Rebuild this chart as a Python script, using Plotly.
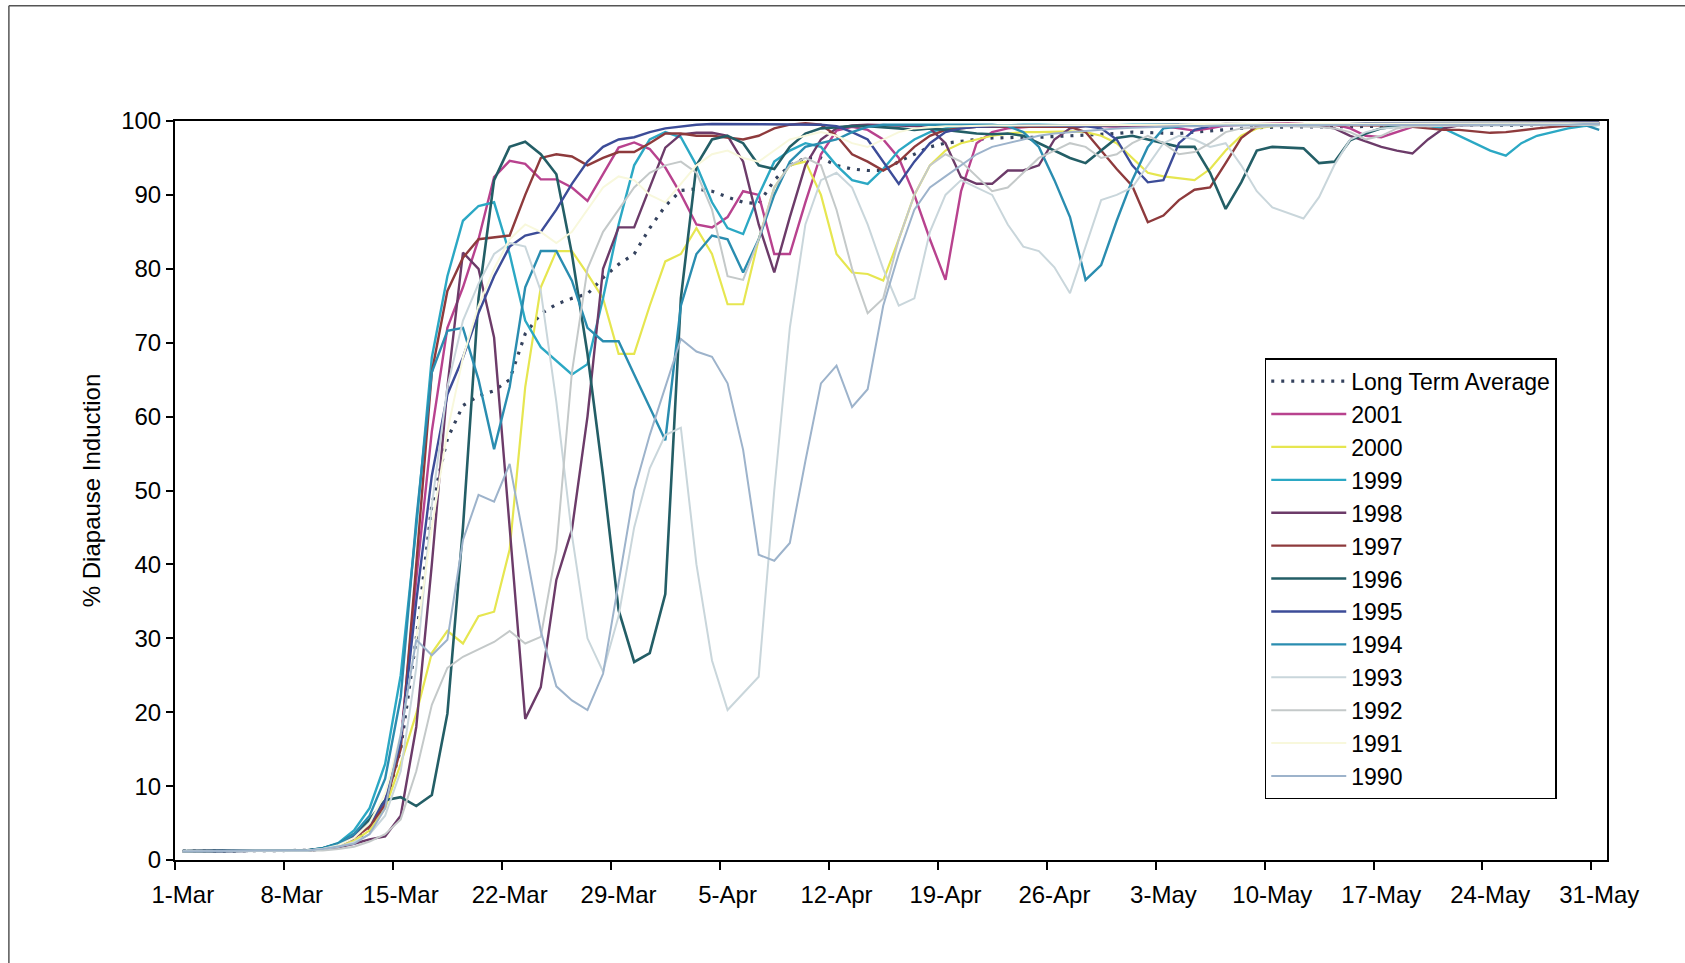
import pandas as pd
import plotly.graph_objects as go

# Daily dates, 1 March to 31 May
DATES = pd.date_range("2001-03-01", "2001-05-31", freq="D")
TICK_DATES = DATES[::7]
TICK_LABELS = [f"{d.day}-{d.strftime('%b')}" for d in TICK_DATES]

BASE = [1.2] * 7

long_term_average = BASE + [
    1.2, 1.3, 1.5, 1.9, 2.6, 4.0, 7.5,
    15, 30, 48, 57, 61.5, 62.8, 63.5,
    65, 71.2, 73.9, 75.2, 76, 76.6, 78.8,
    80.6, 82, 85.5, 88.5, 90.6, 90.8, 90.5,
    89.7, 89, 88.8, 92, 94, 95, 95,
    94, 93.5, 93.3, 93.3, 94.5, 95.5, 96.5,
    97, 97.3, 97.5, 97.7, 97.8, 97.8, 97.8,
    97.9, 97.9, 98, 98.1, 98.3, 98.5, 98.4,
    98.3, 98.3, 98.5, 98.7, 98.9, 99, 99.1,
    99.2, 99.2, 99.2, 99.2, 99.3, 99.3, 99.3,
    99.3, 99.3, 99.3, 99.4, 99.4, 99.4, 99.4,
    99.3, 99.3, 99.4, 99.5, 99.5, 99.5, 99.6,
    99.6]

y2001 = BASE + [
    1.2, 1.3, 1.5, 2.0, 3.0, 4.5, 8.0,
    16, 38, 58, 72, 77.5, 84, 92.4,
    94.6, 94.2, 92.1, 92.1, 91, 89.2, 92.8,
    96.4, 97.1, 96.2, 93.7, 90.1, 86, 85.6,
    87, 90.5, 90, 82, 82, 89, 95.5,
    98.7, 99.2, 98.8, 97.5, 95, 90, 84,
    78.5, 90.5, 97, 98.5, 99, 99.2, 99.3,
    99.3, 99.4, 99.4, 99.3, 99.2, 99.3, 99.4,
    99.3, 99, 98.7, 99, 99.4, 99.5, 99.6,
    99.7, 99.7, 99.6, 99.6, 99.5, 99, 98,
    97.8, 98.5, 99.2, 99.5, 99.6, 99.6, 99.7,
    99.7, 99.7, 99.7, 99.8, 99.8, 99.8, 99.8,
    99.8]

y2000 = BASE + [
    1.2, 1.3, 1.5, 1.9, 2.6, 4.0, 7.0,
    13, 19.8, 28, 31, 29.3, 33, 33.6,
    42, 64, 77.5, 82.4, 82.4, 79.3, 76,
    68.5, 68.5, 75, 81, 82, 85.5, 82,
    75.2, 75.2, 84, 91, 94, 94.5, 90,
    82, 79.5, 79.3, 78.4, 84, 90, 94,
    96, 97, 97.5, 98, 98.3, 98.5, 98.5,
    98.6, 98.6, 98.5, 98, 97, 95, 93,
    92.5, 92.3, 92, 93.5, 96, 98, 99,
    99.3, 99.5, 99.5, 99.5, 99.6, 99.6, 99.6,
    99.6, 99.7, 99.7, 99.7, 99.7, 99.7, 99.7,
    99.7, 99.7, 99.8, 99.8, 99.8, 99.8, 99.8,
    99.8]

y1999 = BASE + [
    1.2, 1.3, 1.6, 2.3, 4.0, 7.0, 13,
    25, 45, 68, 79, 86.5, 88.5, 89,
    82, 73, 69.4, 67.5, 65.7, 67.1, 76,
    86, 94, 97.5, 98.5, 97.8, 94, 89,
    85.5, 84.7, 90, 94.5, 96, 97, 96.5,
    94, 92, 91.5, 93.5, 96, 97.5, 98.5,
    99, 99.2, 99.3, 99.4, 99.4, 99.5, 99.5,
    99.5, 99.4, 99.3, 99.4, 99.5, 99.5, 99.5,
    99.5, 99.6, 99.6, 99.6, 99.6, 99.6, 99.6,
    99.6, 99.6, 99.5, 99.5, 99.5, 99.5, 99.5,
    99.5, 99.5, 99.4, 99.3, 99, 98, 97,
    96, 95.3, 97, 98, 98.5, 99, 99.3,
    99.5]

y1998 = BASE + [
    1.2, 1.3, 1.4, 1.7, 2.2, 2.8, 3.2,
    6, 18, 40, 64, 82.2, 80, 70.7,
    45, 19.1, 23.4, 37.9, 44.7, 60, 80,
    85.6, 85.6, 91, 96.4, 98.2, 98.4, 98.4,
    98, 94.5, 86, 79.5, 87, 94, 97.5,
    99, 99.4, 99.5, 99.5, 99.4, 99.3, 99,
    97, 92.4, 91.5, 91.5, 93.3, 93.3, 94,
    97.5, 99, 99.3, 99.4, 99.4, 99.4, 99.4,
    99.5, 99.5, 99.5, 99.5, 99.6, 99.6, 99.6,
    99.6, 99.6, 99.5, 99.3, 99, 98, 97.3,
    96.5, 96, 95.6, 97.5, 99, 99.4, 99.5,
    99.5, 99.6, 99.6, 99.7, 99.7, 99.7, 99.7,
    99.7]

y1997 = BASE + [
    1.2, 1.3, 1.5, 2.0, 3.0, 4.5, 7.5,
    15, 40, 66, 77, 81.5, 84, 84.2,
    84.5, 90, 95, 95.5, 95.2, 94, 95,
    95.8, 95.8, 97, 98.3, 98.3, 98, 98,
    97.8, 97.5, 98, 99, 99.5, 99.7, 99.5,
    98, 95.5, 94.5, 93.3, 94.5, 96.5, 98,
    98.8, 99, 99.2, 99.2, 99.2, 99.2, 99.2,
    99.2, 99.2, 98.5, 96, 93.5, 91.2, 86.3,
    87.2, 89.3, 90.7, 91, 94.3, 97.7, 99.3,
    99.5, 99.5, 99.5, 99.5, 99.5, 99.5, 99.5,
    99.5, 99.4, 99.2, 99, 98.8, 98.8, 98.6,
    98.4, 98.5, 98.8, 99, 99.2, 99.4, 99.5,
    99.6]

y1996 = BASE + [
    1.2, 1.3, 1.6, 2.2, 3.5, 5.5, 8.1,
    8.5, 7.3, 8.8, 19.8, 45, 76, 92,
    96.5, 97.2, 95.5, 92.8, 82, 68.5, 52,
    33.8, 26.8, 28, 36, 76, 94, 97.5,
    98, 97, 94, 93.5, 96.5, 98.3, 99,
    99.2, 99.3, 99.3, 99.2, 99, 98.8, 99,
    98.8, 98.5, 98.3, 98.2, 98.3, 98, 97,
    96, 95, 94.3, 96, 97.7, 98, 97.5,
    97, 96.5, 96.5, 93, 88.1, 91.7, 96,
    96.5, 96.4, 96.3, 94.3, 94.5, 97.4, 98.3,
    99, 99.3, 99.4, 99.5, 99.5, 99.5, 99.5,
    99.5, 99.5, 99.6, 99.6, 99.6, 99.6, 99.6,
    99.6]

y1995 = BASE + [
    1.2, 1.3, 1.5, 2.0, 3.2, 5.0, 8.0,
    16, 35, 52, 63, 68, 74, 79,
    83, 84.5, 85, 88, 91.5, 94.5, 96.5,
    97.5, 97.8, 98.5, 99, 99.3, 99.5, 99.6,
    99.6, 99.6, 99.6, 99.6, 99.6, 99.6, 99.5,
    99.3, 98.5, 97.5, 94.5, 91.5, 94.5, 97,
    98.5, 99, 99.2, 99.3, 99.4, 99.4, 99.4,
    99.4, 99.4, 99.3, 99, 97.5, 94, 91.7,
    92, 97, 98.8, 99.3, 99.5, 99.5, 99.6,
    99.6, 99.6, 99.6, 99.6, 99.6, 99.6, 99.7,
    99.7, 99.7, 99.7, 99.7, 99.7, 99.7, 99.7,
    99.7, 99.7, 99.8, 99.8, 99.8, 99.8, 99.8,
    99.8]

y1994 = BASE + [
    1.2, 1.3, 1.6, 2.2, 3.5, 6.0, 11,
    22, 46, 66, 71.6, 72, 65, 55.6,
    64, 77.5, 82.4, 82.4, 78.4, 72, 70.2,
    70.2, 65.7, 61.2, 56.8, 75, 82, 84.5,
    84, 79.5, 84, 90, 94.5, 96.5, 97,
    97.5, 98.5, 99.2, 99.5, 99.5, 99.5, 99.5,
    99.5, 99.5, 99.5, 99.5, 99.3, 98.5, 96.5,
    92, 87, 78.5, 80.5, 86.5, 92, 96.5,
    99, 99.3, 99.5, 99.5, 99.5, 99.5, 99.6,
    99.6, 99.6, 99.6, 99.6, 99.6, 99.6, 99.6,
    99.6, 99.6, 99.6, 99.6, 99.6, 99.6, 99.6,
    99.6, 99.6, 99.6, 99.6, 99.6, 99.6, 99.5,
    98.8]

y1993 = BASE + [
    1.2, 1.3, 1.5, 1.8, 2.4, 3.5, 6.0,
    12, 26, 48, 64, 73, 78, 82,
    83.5, 83, 77, 62, 44, 30, 25.5,
    33, 45, 53, 57.5, 58.5, 40, 27,
    20.3, 22.5, 24.8, 50, 72, 86, 92,
    93, 91, 86, 80, 75, 76, 85,
    90, 92, 91, 90, 86, 83, 82.4,
    80.2, 76.7, 83, 89.3, 90, 91, 94,
    97, 98, 97.5, 96.5, 97, 94, 90.5,
    88.3, 87.5, 86.8, 89.7, 94.1, 97.5, 98.5,
    99, 99.2, 99.3, 99.3, 99.4, 99.4, 99.4,
    99.4, 99.5, 99.5, 99.5, 99.5, 99.5, 99.5,
    99.5]

y1992 = BASE + [
    1.2, 1.2, 1.3, 1.5, 1.8, 2.5, 3.5,
    5.5, 12, 21, 26, 27.5, 28.5, 29.5,
    31, 29.3, 30.2, 42, 66, 80, 85,
    88, 91, 93, 94, 94.5, 93, 88,
    79, 78.5, 84, 91, 94, 95, 94,
    88, 80, 74, 76, 84, 90, 94,
    95.5, 94.5, 92.5, 90.5, 91, 93, 95,
    96, 97, 96.5, 95, 95.5, 97, 98,
    97, 95.5, 95.8, 97, 98.5, 99, 99.2,
    99.3, 99.3, 99.3, 99.2, 99, 98.5, 97.5,
    98, 99, 99.3, 99.4, 99.4, 99.4, 99.4,
    99.4, 99.4, 99.5, 99.5, 99.5, 99.5, 99.5,
    99.5]

y1991 = BASE + [
    1.2, 1.3, 1.5, 2.0, 3.0, 5.0, 9.0,
    17, 30, 45, 58, 68, 75, 80,
    84, 86, 85, 83.5, 85, 88, 91,
    92.5, 92, 90, 89, 91.5, 94, 95.5,
    96, 95, 94.5, 96, 97.5, 98, 98.5,
    98, 97, 96.5, 97.5, 98.5, 99, 99.2,
    99.3, 99.3, 99.4, 99.4, 99.4, 99.4, 99.4,
    99.5, 99.5, 99.5, 99.5, 99.5, 99.5, 99.5,
    99.5, 99.5, 99.6, 99.6, 99.6, 99.6, 99.6,
    99.6, 99.6, 99.6, 99.6, 99.6, 99.6, 99.6,
    99.6, 99.6, 99.7, 99.7, 99.7, 99.7, 99.7,
    99.7, 99.7, 99.7, 99.7, 99.7, 99.7, 99.7,
    99.7]

y1990 = BASE + [
    1.2, 1.3, 1.5, 1.8, 2.2, 3.5, 7.0,
    17, 29.8, 27.7, 29.8, 43.3, 49.4, 48.5,
    53.6, 42.4, 31, 23.5, 21.6, 20.3, 25.2,
    37.5, 50, 57.5, 64, 70.5, 68.8, 68.1,
    64.5, 55.5, 41.3, 40.5, 42.9, 54, 64.5,
    66.9, 61.3, 63.7, 75, 82, 88, 91,
    92.5, 94, 95.5, 96.5, 97, 97.5, 98,
    98.3, 98.5, 98.7, 98.9, 99, 99.1, 99.2,
    99.3, 99.3, 99.3, 99.4, 99.4, 99.4, 99.4,
    99.4, 99.4, 99.5, 99.5, 99.5, 99.5, 99.5,
    99.5, 99.5, 99.5, 99.5, 99.5, 99.5, 99.5,
    99.5, 99.5, 99.5, 99.5, 99.5, 99.5, 99.6,
    99.6]

SERIES_NAMES = ["Long Term Average", "2001", "2000", "1999", "1998", "1997",
                "1996", "1995", "1994", "1993", "1992", "1991", "1990"]
SERIES_VALUES = [long_term_average, y2001, y2000, y1999, y1998, y1997,
                 y1996, y1995, y1994, y1993, y1992, y1991, y1990]
SERIES_COLORS = ["#34425E", "#B8428E", "#E6E650", "#2BA8C4", "#6C3B69", "#8E3A3C",
                 "#235E66", "#3C4C98", "#2A8DB0", "#C9D6DB", "#C4C9C9", "#F8F8DC",
                 "#9DB3CB"]
SERIES_WIDTHS = [3.2, 2.4, 2.2, 2.4, 2.4, 2.4, 2.6, 2.4, 2.4, 2.0, 2.0, 2.0, 2.0]

FONT = "Arial, Liberation Sans, sans-serif"

fig = go.Figure()
for name, vals, color, width in zip(SERIES_NAMES, SERIES_VALUES, SERIES_COLORS, SERIES_WIDTHS):
    fig.add_trace(go.Scatter(
        x=DATES, y=vals, name=name, mode="lines", legendgroup=name,
        line=dict(color=color, width=width,
                  dash="3px,7px" if name == "Long Term Average" else "solid"),
    ))

half_day = pd.Timedelta(hours=12)
boundaries = [d - half_day for d in TICK_DATES]

fig.update_layout(
    width=1685, height=963,
    margin=dict(l=175, r=78, t=121, b=103),
    paper_bgcolor="white", plot_bgcolor="white",
    font=dict(family=FONT, size=24, color="black"),
    showlegend=True,
    legend=dict(
        x=0.761, y=0.679, xanchor="left", yanchor="top",
        bgcolor="white", bordercolor="black", borderwidth=1.5,
        font=dict(family=FONT, size=23, color="black"),
        itemwidth=75, tracegroupgap=0, traceorder="grouped",
    ),
    xaxis=dict(
        type="date",
        range=[DATES[0] - half_day, DATES[-1] + half_day],
        tickmode="array", tickvals=list(TICK_DATES), ticktext=TICK_LABELS,
        ticks="", showgrid=False, zeroline=False, ticklabelstandoff=12,
        showline=True, linecolor="black", linewidth=2, mirror=True,
        tickfont=dict(family=FONT, size=24),
        minor=dict(tickmode="array", tickvals=boundaries, ticks="outside",
                   ticklen=8, tickwidth=1.5, tickcolor="black", showgrid=False),
    ),
    yaxis=dict(
        range=[0, 100], tickmode="array", tickvals=list(range(0, 101, 10)),
        ticks="outside", ticklen=7, tickwidth=1.5, tickcolor="black",
        showgrid=False, zeroline=False,
        showline=True, linecolor="black", linewidth=2, mirror=True,
        tickfont=dict(family=FONT, size=24),
        title=dict(text="% Diapause Induction", standoff=14,
                   font=dict(family=FONT, size=24)),
    ),
    shapes=[
        dict(type="line", xref="paper", yref="paper", x0=-0.116, x1=1.06,
             y0=1.156, y1=1.156, line=dict(color="#555555", width=1.5)),
        dict(type="line", xref="paper", yref="paper", x0=-0.116, x1=-0.116,
             y0=1.156, y1=-0.15, line=dict(color="#555555", width=1.5)),
    ],
)

fig.write_html("out.html")
